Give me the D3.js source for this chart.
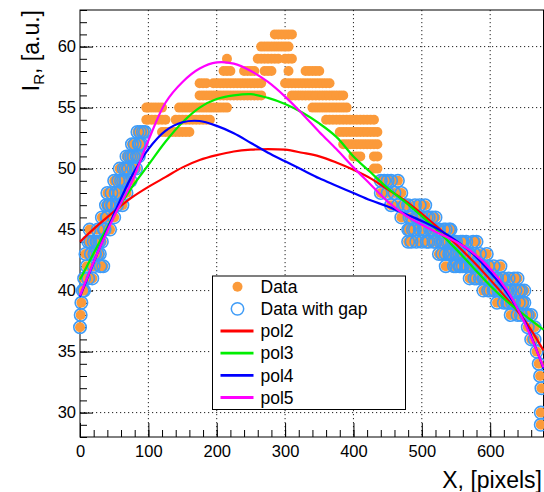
<!DOCTYPE html>
<html>
<head>
<meta charset="utf-8">
<style>
  body { margin: 0; background: #fff; }
  svg text { font-family: "Liberation Sans", Arial, Helvetica, sans-serif; fill: #000; }
</style>
</head>
<body>
<svg width="544" height="492"></svg>
<script src="https://cdn.jsdelivr.net/npm/d3@7"></script>
<script>
// profile columns: [x, y values seen at that x]
const dataColumns = [
  [0,37],[1,38],[2,39],[4,40],[6,40,41],[8,43],[10,42],[12,41,44],[14,45],[15,44],[16,43],[18,41],[20,42,44],
  [21,43],[22,43],[24,44],[25,44],[26,45,43],[28,44],[29,43],[30,42],[32,46,44],[34,42],[35,45],[36,45],
  [38,47],[39,46],[40,46,48],[42,47],[43,47],[44,45],[46,48],[47,47],[48,47],[50,46,49],[52,48],[53,48],
  [54,47],[56,49],[57,48],[58,48,50],[60,49],[62,47],[63,49],[64,50],[66,49],[67,50],[68,48,51],[70,50],
  [71,50],[72,51],[74,49],[75,51],[76,52],[78,50,51],[79,51],[80,52],[82,50],[83,51],[84,53],[86,51,52],
  [87,52],[88,53],[90,52],[92,53],[95,53],
  [97,54,55],[100,54,55],[105,54,55],[110,54,55],[115,54,55],[120,53,54,55],[125,53,54],[130,53],
  [135,53],[140,53,54],[145,53,54,55],[150,53,54,55],[155,53,54,55],[160,53,54,55],[165,54,55],
  [170,54,55],[175,54,55,56,57],[180,54,55,56,57],[185,54,55,56,57],[190,54,55,56],[195,55,56,57],
  [200,55,56,57],[205,55,56,57],[210,55,56,57,58],[215,55,56,57,58,59],[220,56,57,58],[225,56,57],
  [230,56,57],[235,56,57],[240,56,57,58],[245,56,57,58],[250,56,57,58],[255,56,57,58],[260,56,57,59],
  [265,56,57,59,60],[270,58,59,60],[275,58,59,60],[280,58,59,60],[285,59,60,61],[290,59,60,61],
  [295,60,61],[300,57,59,60,61],[305,57,58,59,60,61],[310,56,57,59,61],[315,56,57],[320,56,57],
  [325,56,57],[330,56,57,58],[335,56,57,58],[340,55,56,57,58],[345,55,56,57,58],[350,55,56,57,58],
  [355,55,56,57],[360,54,55,56,57],[365,54,55,56,57],[370,54,55,56],[375,54,55,56],[380,53,54,55,56],
  [385,52,53,54,55,56],[390,52,53,54,55],[395,52,53,54],[400,51,52,53,54],[405,51,52,53,54],
  [410,51,52,53,54],[415,52,53,54],[420,52,53,54],[425,52,53,54],[430,50,51,52,53,54],[435,50,51,52,53],
  [440,48,49],[445,49],[450,48,49],[455,47,49],[460,48],[465,47,49],[470,46,48],[475,47],[480,44,45,47],
  [482,45,46],[485,44,46],[487,45],[490,45,47],[492,44,46],[495,46],[497,45,47],[500,44,46],[502,45],
  [505,45,47],[507,44,46],[510,44,46],[512,45],[515,45,46],[517,44,45],[520,44,46],[522,45],[525,43,45],
  [527,44],[530,43,44],[532,44,45],[535,42,43,45],[537,44],[540,43,44,45],[542,43,45],[545,43,44],
  [547,42,44],[550,42,43,44],[552,43],[555,42,43],[557,42,44],[560,42,43,44],[562,43],[565,42,44],
  [567,42,43],[570,41,43],[572,42],[575,42,44],[577,41,43],[580,41,42,44],[582,42],[585,41,43],[587,42],
  [590,40,41,42],[592,41],[595,41,43],[597,40,42],[600,40,41],[602,41],[605,40,42],[607,40,41],[610,39,41],
  [612,40],[615,40,42],[617,40,41],[620,39,41],[622,40],[625,39,40],[627,39,41],[630,38,40],[632,39],
  [635,39,41],[637,40],[640,38,41],[642,39,40],[645,38,40],[647,39],[650,39,40],[652,38],[655,37,38],
  [660,36,38],[665,36,37],[668,35],[671,34],[673,33],[675,32],[674,29,30]
];
// the "with gap" set leaves out this x range
const gapFrom = 96, gapTo = 438;

const fitX = [0,25,50,75,100,125,150,175,200,225,250,275,300,325,350,375,400,425,450,475,500,525,550,575,600,625,650,678];
const pol2 = [44.0,45.3,46.5,47.6,48.5,49.3,50.1,50.7,51.1,51.4,51.55,51.6,51.55,51.3,51.0,50.5,49.9,49.2,48.3,47.4,46.3,45.1,43.8,42.4,40.9,39.3,37.6,35.1];
const pol3 = [40.9,43.6,46.2,48.4,50.3,52.2,53.8,55.0,55.7,56.0,56.1,55.8,55.3,54.6,53.7,52.6,51.0,49.7,48.4,47.3,46.1,44.8,43.4,41.9,40.4,39.1,38.0,36.8];
const pol4 = [39.5,43.0,46.3,49.3,51.6,53.1,53.8,53.9,53.5,52.9,52.1,51.3,50.6,49.9,49.2,48.6,48.0,47.4,46.9,46.3,45.7,45.0,44.1,43.0,41.5,39.8,37.5,33.6];
const pol5 = [39.6,43.0,46.1,48.8,52.3,55.4,57.1,58.2,58.7,58.6,58.0,57.1,55.9,54.5,53.0,51.6,50.1,48.7,47.3,46.2,45.4,44.7,44.0,43.1,41.8,40.0,37.4,33.7];

const xTicks = [0,100,200,300,400,500,600];
const yTicks = [30,35,40,45,50,55,60];
const legendNames = ['Data','Data with gap','pol2','pol3','pol4','pol5'];

const orange = '#fb9a3a', azure = '#3f9cf7';
const fitColors = ['#ff0000','#00ee00','#0000ff','#ff00ff'];

const svg = d3.select('svg');
const x = d3.scaleLinear().domain([0, 678]).range([80, 543.5]);
const y = d3.scaleLinear().domain([28, 63]).range([437, 10]);

// grid
svg.append('g').selectAll('line').data(xTicks.filter(d => d > 0)).enter().append('line')
    .attr('x1', d => x(d)).attr('x2', d => x(d)).attr('y1', y(63)).attr('y2', y(28))
    .attr('stroke', '#222').attr('stroke-dasharray', '1.2,2.8');
svg.append('g').selectAll('line').data(yTicks).enter().append('line')
    .attr('x1', x(0)).attr('x2', x(678)).attr('y1', d => y(d)).attr('y2', d => y(d))
    .attr('stroke', '#222').attr('stroke-dasharray', '1.2,2.8');

// axes, ticks pointing into the frame
function styleAxis(g) {
  g.select('.domain').remove();
  g.selectAll('.tick line').attr('stroke', '#000');
  g.selectAll('text').attr('font-size', 16.5).attr('font-family', '"Liberation Sans", Arial, sans-serif');
}
svg.append('g').attr('transform', 'translate(0,437)')
    .call(d3.axisBottom(x).tickValues(d3.range(0, 679, 20)).tickSize(-7).tickFormat(''))
    .call(styleAxis);
svg.append('g').attr('transform', 'translate(0,437)')
    .call(d3.axisBottom(x).tickValues(xTicks).tickSize(-14).tickPadding(8).tickFormat(d3.format('d')))
    .call(styleAxis);
svg.append('g').attr('transform', 'translate(80,0)')
    .call(d3.axisLeft(y).tickValues(d3.range(28, 64, 1)).tickSize(-7).tickFormat(''))
    .call(styleAxis);
svg.append('g').attr('transform', 'translate(80,0)')
    .call(d3.axisLeft(y).tickValues(yTicks).tickSize(-13).tickPadding(4).tickFormat(d3.format('d')))
    .call(styleAxis);

svg.append('rect').attr('x', x(0)).attr('y', y(63))
    .attr('width', x(678) - x(0)).attr('height', y(28) - y(63))
    .attr('fill', 'none').attr('stroke', '#000').attr('stroke-width', 1);

// points
const points = dataColumns.flatMap(c => c.slice(1).map(v => ({x: c[0], y: v})));
const gapPoints = points.filter(p => p.x < gapFrom || p.x > gapTo);

svg.append('g').selectAll('circle').data(points).enter().append('circle')
    .attr('cx', d => x(d.x)).attr('cy', d => y(d.y)).attr('r', 5)
    .attr('fill', orange);
svg.append('g').selectAll('circle').data(gapPoints).enter().append('circle')
    .attr('cx', d => x(d.x)).attr('cy', d => y(d.y)).attr('r', 6.2)
    .attr('fill', 'none').attr('stroke', azure).attr('stroke-width', 1.6);

// fits
const line = d3.line().x(d => x(d[0])).y(d => y(d[1])).curve(d3.curveCatmullRom);
[pol2, pol3, pol4, pol5].forEach((s, i) => {
  svg.append('path').datum(fitX.map((v, j) => [v, s[j]]))
      .attr('d', line).attr('fill', 'none')
      .attr('stroke', fitColors[i]).attr('stroke-width', 2.2);
});

// legend
const lg = svg.append('g');
lg.append('rect').attr('x', 212.5).attr('y', 276).attr('width', 193).attr('height', 133.5)
    .attr('fill', '#fff').attr('stroke', '#000').attr('stroke-width', 1);
const rowY = d3.scalePoint().domain(legendNames).range([286.7, 397.5]);
legendNames.forEach((name, i) => {
  const yy = rowY(name);
  if (i === 0) {
    lg.append('circle').attr('cx', 237.5).attr('cy', yy).attr('r', 5).attr('fill', orange);
  } else if (i === 1) {
    lg.append('circle').attr('cx', 237.5).attr('cy', yy).attr('r', 6.2)
        .attr('fill', 'none').attr('stroke', azure).attr('stroke-width', 1.5);
  } else {
    lg.append('line').attr('x1', 220.5).attr('x2', 253.5).attr('y1', yy).attr('y2', yy)
        .attr('stroke', fitColors[i - 2]).attr('stroke-width', 2.8);
  }
  lg.append('text').attr('x', 260.5).attr('y', yy).attr('dy', '0.36em')
      .attr('font-size', 17.5).text(name);
});

// axis titles
svg.append('text').attr('x', 542).attr('y', 487.5).attr('text-anchor', 'end')
    .attr('font-size', 23).text('X, [pixels]');
const yt = svg.append('text').attr('transform', 'translate(39,10) rotate(-90)')
    .attr('text-anchor', 'end').attr('font-size', 23);
yt.append('tspan').text('I');
yt.append('tspan').attr('font-size', 15).attr('dy', 4.5).text('R');
yt.append('tspan').attr('dy', -4.5).text(', [a.u.]');
</script>
</body>
</html>
